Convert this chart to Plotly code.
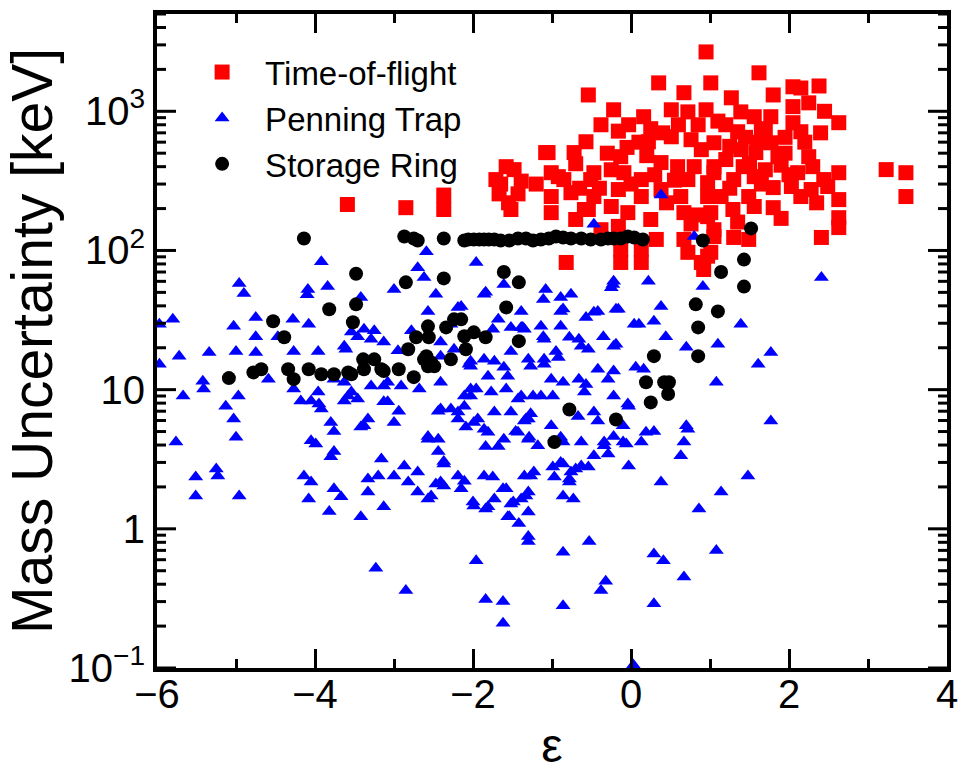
import plotly.graph_objects as go

# ---------------- data (epsilon, mass uncertainty in keV) ----------------
tof_eps = [-3.59, -2.85, -2.37, -2.37, -1.71, -1.67, -1.58, -1.52, -1.43, -1.39, -1.48, -1.08, -0.92, -0.72,
           -0.54, -0.57, -0.22, -0.16, -0.51, -0.76, -1.01, -0.59, 0.95, 0.35, 1.01, 0.67, 0.51, 0.16, -0.03,
           0.72, 0.95, 0.22, -1.05, 0.51, 0.76, 1.05, -0.13, 0.38, 0.59, -1.01, -0.85, -0.47, -0.09, 0.13,
           0.72, 1.05, -0.47, -0.16, 0.13, 0.63, 0.97, -1.01, -0.54, -0.25, -0.04, 0.25, 0.67, 0.97, -0.16,
           0.67, 1.05, -0.13, 0.13, -0.82, -0.13, 0.13, 0.97, 0.92, 0.72, 1.62, 2.05, 2.15, 2.38, 1.27, 1.80,
           1.39, 1.56, 1.77, 2.05, 2.25, 2.05, 2.15, 2.63, 1.35, 1.39, 1.77, 1.86, 1.58, 2.25, 2.30, 2.11,
           2.63, 2.44, 1.05, 1.42, 1.56, 1.80, 2.03, 2.15, 2.28, 2.49, 2.63, 1.30, 0.97, 1.14, 1.49, 1.56,
           1.80, 1.29, 1.01, 2.63, 2.63, 2.41, 1.30, 1.49, 1.05, 1.01, 0.89, 3.23, 3.48, 3.48, -0.38, 0.38,
           0.89, 1.20, 1.65, 1.90, 0.76, 0.32, -0.38, -0.70,
           1.20, 1.45, 1.60, 1.70, 1.95, 1.25, 1.50, 1.70, 1.95, 2.20, 2.40, 2.45, 1.10, 0.85, 0.60, 0.40,
           0.25, 0.10, -0.05, -0.30, -0.70, -0.40, 0.00, 0.30, 0.55, 0.80, 0.45, 0.85, 1.25, 1.65, 2.00,
           2.35, 0.20, -0.25, -1.20, -1.65, -1.55, -0.65, 1.35, 1.90]
tof_unc = [214, 203, 250, 197, 323, 255, 400, 197, 255, 315, 381, 505, 339, 505,
           1310, 604, 1025, 720, 323, 260, 244, 197, 2670, 1600, 1600, 1360, 1025, 914, 800,
           990, 1025, 604, 505, 656, 625, 594, 472, 428, 400, 362, 323, 362, 362, 323,
           323, 362, 244, 274, 244, 244, 244, 187, 197, 207, 187, 167, 187, 175, 149,
           120, 141, 102, 102, 82, 82, 82, 91, 73, 97, 1890, 1500, 1470, 1520, 1250, 1310,
           990, 914, 914, 1080, 1150, 828, 713, 828, 713, 530, 594, 472, 505, 472, 400, 362,
           362, 323, 400, 400, 339, 283, 288, 244, 274, 288, 232, 323, 307, 244, 244, 207,
           203, 197, 187, 172, 146, 124, 124, 120, 126, 97, 82, 381, 362, 244, 800, 274,
           530, 450, 735, 410, 155, 120, 141, 167,
           800, 650, 600, 750, 650, 560, 420, 380, 500, 600, 700, 1000, 850, 800, 800, 700,
           750, 600, 550, 500, 420, 280, 300, 350, 320, 400, 220, 180, 280, 300, 350,
           220, 480, 380, 300, 300, 220, 280, 160, 170]

pt_eps = [-2.59, -3.92, -1.96, -2.70, -2.62, -4.96, -3.84, -4.90, -4.09, -4.10, -3.00, -2.47, -1.86, -1.61,
          -1.11, -3.42, -2.57, -2.19, -1.39, -5.80, -5.97, -5.03, -4.75, -4.28, -4.08, -4.47, -4.75, -3.54,
          -3.38, -3.13, -2.78, -2.28, -1.68, -1.39, -1.14, -5.72, -5.34, -5.00, -4.75, -4.27, -3.96, -3.63,
          -3.29, -5.97, -2.41, -2.03, -1.86, -1.52, -1.27, -1.10, -5.42, -5.41, -5.67, -4.97, -4.59, -4.27,
          -3.96, -3.63, -3.54, -3.29, -3.13, -2.91, -2.41, -2.03, -1.77, -1.43, -1.14, -5.13, -5.03, -4.18,
          -4.05, -3.92, -3.63, -3.46, -3.13, -2.94, -2.44, -2.28, -2.11, -1.94, -1.73, -1.52, -1.30, -3.80,
          -3.38, -3.00, -1.86,
          -5.00, -5.76, -5.51, -5.51, -5.25, -5.23, -4.96, -4.14, -4.05, -4.08, -3.95, -3.76, -4.05, -3.99,
          -3.76, -3.80, -3.76, -3.67, -3.82, -3.42, -3.33, -3.33, -3.20, -3.13, -3.16, -3.00, -2.82, -2.87,
          -2.70, -2.70, -2.57, -2.47, -2.37, -2.37, -2.19, -2.15, -2.00, -1.86, -1.75, -1.81, -1.73, -1.62,
          -1.52, -1.54, -1.42, -1.30, -1.33, -1.27, -1.30, -1.96, -3.23, -2.85, -1.84, -1.62, -1.62, -3.33,
          -3.42, -2.57, -2.44, -2.44, -2.19, -2.09, -1.81, -1.84, -1.68, -1.61, -1.35, -1.43, -1.30, -1.18,
          -2.15, -3.25, -3.46, -3.61, -2.95, -2.41, -2.24, -2.03, -3.76, -3.08, -2.68, -3.58, -3.08, -2.41,
          -2.19, -2.03, -1.99, -2.57, -2.37, -2.41, -2.53,
          -1.84, -1.08, -0.89, -0.76, -0.23, -0.19, -0.47, -0.57, -0.89, -0.89, -1.10, -0.78, -0.66, -0.35,
          -1.35, -1.75, -0.19, 0.04, -0.54, -0.95, -0.92, -1.30, -1.10, -1.73, -2.05, -1.61, -1.56, -1.81,
          -0.42, -0.22, 0.06, -1.01, -0.86, -0.66, -0.57, -0.29, -1.96, -2.11, -1.58, -1.39, -1.24, -0.99,
          -0.59, -0.22, -0.04, -1.27, -0.67, -0.47, -0.42, -0.10, -1.46, -1.29, -1.01, -0.89, -0.63, -0.34,
          -0.22, -0.06, -0.47, -0.29, -0.03, -0.99, -0.89, -0.70, -0.54, -0.78, -1.35, -1.23, -2.11, -1.30,
          -0.86, -0.73, -1.49, -1.99, -1.84, -1.30,
          -1.33, -0.86, -0.03, -0.34, -0.10, 0.13, 0.19, 0.29, 0.72, 0.67, 0.63, -0.63, -0.76, -0.86, -0.97,
          -0.78, -1.58, -1.39, -1.56, -0.86, -0.53, 0.29, 0.41, 0.38, 0.86, 1.14, 1.48, 1.08, 0.67, 1.77,
          -0.32, -0.38, -0.86, 0.29, 0.03,
          -0.47, 0.80, -0.22, -0.25, 0.22, 0.91, -0.86, -0.42, -0.16, 0.38, 1.39, 2.41, 0.10, 0.29, -1.52,
          -1.37, 0.44, 1.10, 0.70, 1.77, 1.61, 1.08, -0.22, 0.16, 0.70, -0.63, -1.11, 0.38]
pt_unc = [98, 83, 82, 75, 64, 58, 55, 49, 52.5, 48, 52.5, 48.4, 48.4, 57,
          44.5, 46, 36.5, 39, 36.5, 32, 29.5, 28.5, 33, 32, 29.5, 24, 24, 26,
          27.2, 22, 26.5, 29.5, 32, 28, 28.5, 17.4, 18.5, 18.8, 18.5, 18.8, 18.8, 20.5,
          23, 15.2, 17.4, 14.7, 16.5, 18.8, 14.7, 16.5, 11.5, 10.1, 9.0, 9.0, 11.9, 10.1,
          9.6, 11.3, 9.6, 10.6, 10.6, 10.6, 11.3, 9.0, 9.6, 8.55, 9.0, 7.6, 6.15, 8.3,
          8.3, 7.25, 8.3, 8.55, 8.2, 7.0, 7.0, 7.25, 7.6, 6.15, 6.9, 6.9, 6.15, 5.8,
          5.5, 5.8, 5.2,
          4.55, 4.2, 2.36, 1.72, 2.69, 2.4, 1.72, 2.4, 2.17, 1.64, 7.9, 5.0, 4.3, 4.07,
          3.6, 3.3, 1.94, 1.7, 1.33, 1.22, 2.28, 1.84, 2.4, 1.44, 3.18, 2.4, 2.17, 2.83,
          2.56, 1.84, 1.64, 2.1, 2.92, 2.03, 2.4, 1.94, 1.56, 2.4, 2.36, 1.44, 1.64, 1.94,
          1.51, 1.22, 1.09, 1.32, 1.72, 2.4, 0.81, 0.59, 0.52, 0.36, 0.31, 0.30, 0.21, 6.15,
          5.4, 4.4, 4.4, 3.6, 6.15, 5.4, 4.95, 3.9, 3.9, 4.4, 5.95, 4.95, 4.4, 3.95,
          39.5, 26.5, 24, 19.5, 19, 22, 19.5, 16, 11.9, 11.3, 10.1, 9.0, 8.2, 7.25,
          6.9, 10.1, 5.8, 4.6, 3.05, 2.17, 1.72,
          50, 52.5, 46, 48.4, 57, 37.8, 36, 33, 36.5, 28.5, 23, 23.8, 23, 24,
          27.2, 27.2, 21.2, 29.5, 19.5, 18.8, 17, 16.5, 15.2, 16, 15.2, 14.5, 12.5, 12.5,
          14, 13.6, 14.5, 11.9, 11.3, 11.9, 10.9, 11.9, 10.1, 9.0, 10.1, 9.0, 9.0, 9.0,
          9.6, 9.0, 7.9, 6.7, 6.4, 6.9, 5.95, 5.5, 5.0, 4.55, 5.5, 4.55, 4.2, 4.2,
          4.6, 4.07, 3.35, 3.45, 2.83, 2.78, 3.0, 2.69, 2.78, 2.28, 2.4, 2.56, 2.2, 1.84,
          1.72, 1.64, 1.56, 1.46, 1.39, 0.88,
          6.15, 4.2, 7.6, 3.95, 4.2, 4.2, 4.95, 5.0, 5.2, 4.2, 3.35, 2.83, 2.56, 2.92, 2.36,
          2.17, 1.94, 1.64, 1.22, 0.68, 0.81, 0.66, 0.59, 2.17, 1.39, 1.84, 2.4, 0.7, 0.45, 5.95,
          0.42, 0.36, 0.28, 0.29, 0.105,
          154, 126, 60, 54, 60, 55, 38, 36.5, 37.8, 39.5, 29.5, 64, 29.5, 31, 28,
          28, 24, 21.2, 20.2, 18.5, 15.2, 11.3, 20.5, 14, 5.5, 20.5, 24, 250]

sr_eps = [-4.14, -2.87, -2.75, -2.70, -2.37, -2.11, -2.06, -1.99, -1.92, -1.86, -1.80, -1.73, -1.65, -1.54,
          -1.43, -1.33, -1.24, -1.14, -1.04, -0.95, -0.86, -0.76, -0.63, -0.51, -0.38, -0.29, -0.22, -0.13,
          -0.04, 0.04, 0.15,
          -3.48, -3.48, -3.52, -3.82, -2.37, -2.85, -1.61, -1.42, -1.58, -4.53, -4.39, -5.09, -4.78, -4.68,
          -4.34, -4.27, -4.08, -3.92, -3.76, -3.58, -3.54, -3.39, -3.38, -3.25, -3.16, -3.13, -2.94, -2.82,
          -2.75, -2.72, -2.57, -2.56, -2.59, -2.57, -2.49, -2.53, -2.62, -2.34, -2.24, -2.28, -2.11, -2.09,
          -1.99, -1.84, -2.15, -1.42, -0.78, -0.19, -0.97, 1.52, 0.91, 1.43, 1.14, 1.43, 0.82, 1.10, 0.85,
          0.85, 0.29, 0.19, 0.42, 0.48, 0.47, 0.25]
sr_unc = [122, 126, 122, 118, 122, 118, 120, 120, 120, 120, 120, 120, 118, 118,
          122, 122, 118, 120, 122, 126, 124, 122, 122, 120, 120, 122, 122, 122,
          126, 124, 120,
          68, 41, 30.5, 37.8, 63, 59, 70, 59, 39, 31, 23.8, 12.1, 13.3, 14,
          14, 11.9, 14, 12.9, 12.9, 13.3, 12.9, 16.5, 14, 16.5, 14, 13.6, 14, 19.5,
          12.3, 23.8, 28.5, 23.8, 17.4, 14.7, 14.7, 15.7, 16.5, 28, 32, 16.5, 24.2, 19.5,
          25.8, 23.8, 32, 22.3, 7.2, 6.1, 4.2, 144, 118, 86, 70, 55, 41, 36.5, 28,
          17.4, 17.4, 11.3, 11.3, 11.3, 9.3, 8.1]

series_names = ["Time-of-flight", "Penning Trap", "Storage Ring"]
x_range = [-6, 4]
y_tickvals = [0.1, 1, 10, 100, 1000]
y_ticktext = ["10<sup>\u22121</sup>", "1", "10", "10<sup>2</sup>", "10<sup>3</sup>"]
y_range_log = [-1, 3.699]
# minor tick positions on the log axis: 2..9 x each decade, inside the range
y_minor = [k * 10 ** d for d in range(-1, 4) for k in range(2, 10) if k * 10 ** d < 10 ** y_range_log[1]]

FONT = "Liberation Sans, Arial, Helvetica, sans-serif"
MARGIN = dict(l=157, r=13, t=14, b=115)
PLOT_W = 960 - MARGIN["l"] - MARGIN["r"]
MAJOR_LEN, MINOR_LEN = 19, 9
UNITS_PER_PX = (x_range[1] - x_range[0]) / PLOT_W

# inward y-axis tick marks (left and mirrored right), built from the tick values
tick_x, tick_y = [], []
for vals, length in ((y_tickvals, MAJOR_LEN), (y_minor, MINOR_LEN)):
    d = length * UNITS_PER_PX
    for v in vals:
        tick_x += [x_range[0], x_range[0] + d, None, x_range[1] - d, x_range[1], None]
        tick_y += [v, v, None, v, v, None]

fig = go.Figure()
fig.add_trace(go.Scatter(x=tof_eps, y=tof_unc, mode="markers", name=series_names[0],
                         marker=dict(symbol="square", size=15, color="#ff0000", line=dict(width=0))))
fig.add_trace(go.Scatter(x=pt_eps, y=pt_unc, mode="markers", name=series_names[1],
                         marker=dict(symbol="triangle-up", size=13, color="#0000ff", line=dict(width=0))))
fig.add_trace(go.Scatter(x=sr_eps, y=sr_unc, mode="markers", name=series_names[2],
                         marker=dict(symbol="circle", size=14, color="#000000", line=dict(width=0))))
fig.add_trace(go.Scatter(x=tick_x, y=tick_y, mode="lines", showlegend=False, hoverinfo="skip",
                         line=dict(color="black", width=3), connectgaps=False))

fig.update_layout(
    width=960, height=783,
    margin=MARGIN,
    paper_bgcolor="white", plot_bgcolor="white",
    font=dict(family=FONT, color="black"),
    showlegend=True,
    legend=dict(x=0.028, y=0.954, xanchor="left", yanchor="top",
                font=dict(size=33, family=FONT), bgcolor="rgba(0,0,0,0)",
                itemwidth=76, itemsizing="trace", tracegroupgap=0),
    xaxis=dict(
        range=x_range, dtick=2, tick0=-6,
        showline=True, linewidth=4, linecolor="black", mirror="ticks",
        ticks="inside", ticklen=MAJOR_LEN, tickwidth=3, tickcolor="black",
        minor=dict(ticks="inside", ticklen=MINOR_LEN, tickwidth=3, dtick=1, tickcolor="black", showgrid=False),
        showgrid=False, zeroline=False, automargin=False,
        ticklabelstandoff=-12,
        tickfont=dict(size=40, family=FONT),
        title=dict(text="\u03b5", font=dict(size=48, family=FONT), standoff=14),
    ),
    yaxis=dict(
        type="log", range=y_range_log,
        tickmode="array", tickvals=y_tickvals, ticktext=y_ticktext,
        showline=True, linewidth=4, linecolor="black", mirror=True,
        ticks="", showgrid=False, zeroline=False, automargin=False,
        tickfont=dict(size=40, family=FONT),
        title=dict(text="Mass Uncertainty [keV]", font=dict(size=57, family=FONT), standoff=4),
    ),
)

fig.write_html("out.html")
